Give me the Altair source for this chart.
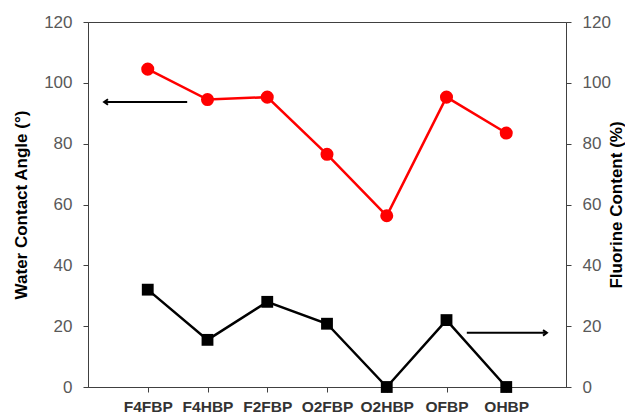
import altair as alt
import pandas as pd

categories = ["F4FBP", "F4HBP", "F2FBP", "O2FBP", "O2HBP", "OFBP", "OHBP"]
positions = [1, 2, 3, 4, 5, 6, 7]
contact_angle = [104.5, 94.5, 95.3, 76.5, 56.3, 95.3, 83.5]
fluorine = [32.0, 15.5, 28.0, 20.8, 0.0, 22.0, 0.0]

# annotation arrows (data coords): x_from, x_to, y
left_arrow = {"x": [1.66], "x2": [0.27], "y": [93.7]}
right_arrow = {"x": [6.34], "x2": [7.68], "y": [17.8]}

df = pd.DataFrame({"pos": positions, "cat": categories,
                   "wca": contact_angle, "f": fluorine})
la = pd.DataFrame(left_arrow)
ra = pd.DataFrame(right_arrow)

label_expr = "{" + ",".join(f"'{p}':'{c}'" for p, c in zip(positions, categories)) + "}[datum.value]"

FONT = "Liberation Sans"
xscale = alt.Scale(domain=[0, 8], nice=False, zero=False)
xaxis = alt.Axis(values=positions, labelExpr=label_expr, title=None, grid=False,
                 labelFont=FONT, labelFontSize=15.5, labelFontWeight="bold",
                 labelColor="#333333", tickSize=5, labelPadding=7,
                 domainColor="#404040", tickColor="#404040", labelFlush=False)
yscale = alt.Scale(domain=[0, 120], nice=False)

left_axis = alt.Axis(values=[0, 20, 40, 60, 80, 100, 120], grid=False,
                     title="Water Contact Angle (°)", titleFont=FONT, titleFontSize=17,
                     titleFontWeight="bold", titleColor="black", titlePadding=13,
                     labelFont=FONT, labelFontSize=17, labelColor="#595959",
                     tickSize=5, labelPadding=11, domainColor="#404040", tickColor="#404040")
right_axis = alt.Axis(values=[0, 20, 40, 60, 80, 100, 120], grid=False, orient="right",
                      title="Fluorine Content (%)", titleFont=FONT, titleFontSize=17,
                      titleFontWeight="bold", titleColor="black", titlePadding=15,
                      titleAngle=270,
                      labelFont=FONT, labelFontSize=17, labelColor="#595959",
                      tickSize=5, labelPadding=11, domainColor="#404040", tickColor="#404040")

base = alt.Chart(df)
x = alt.X("pos:Q", scale=xscale, axis=xaxis)

red_line = base.mark_line(color="#ff0000", strokeWidth=2.5).encode(
    x=x, y=alt.Y("wca:Q", scale=yscale, axis=left_axis))
red_pts = base.mark_point(color="#ff0000", filled=True, opacity=1, size=170, shape="circle").encode(
    x=alt.X("pos:Q", scale=xscale), y=alt.Y("wca:Q", scale=yscale))
larrow = alt.Chart(la).mark_rule(color="black", strokeWidth=2).encode(
    x=alt.X("x:Q", scale=xscale), x2="x2:Q", y=alt.Y("y:Q", scale=yscale))
lhead = alt.Chart(la).mark_point(color="black", filled=False, strokeWidth=2, opacity=1, size=60,
                                 shape="M 1 -0.7 L 0 0 L 1 0.7").encode(
    x=alt.X("x2:Q", scale=xscale), y=alt.Y("y:Q", scale=yscale))
left_layer = alt.layer(red_line, red_pts, larrow, lhead)

blk_line = base.mark_line(color="black", strokeWidth=2.5).encode(
    x=x, y=alt.Y("f:Q", scale=yscale, axis=right_axis))
blk_pts = base.mark_point(color="black", filled=True, opacity=1, size=140, shape="square").encode(
    x=alt.X("pos:Q", scale=xscale), y=alt.Y("f:Q", scale=yscale))
rarrow = alt.Chart(ra).mark_rule(color="black", strokeWidth=2).encode(
    x=alt.X("x:Q", scale=xscale), x2="x2:Q", y=alt.Y("y:Q", scale=yscale))
rhead = alt.Chart(ra).mark_point(color="black", filled=False, strokeWidth=2, opacity=1, size=60,
                                 shape="M -1 -0.7 L 0 0 L -1 0.7").encode(
    x=alt.X("x2:Q", scale=xscale), y=alt.Y("y:Q", scale=yscale))
right_layer = alt.layer(blk_line, blk_pts, rarrow, rhead)

chart = alt.layer(left_layer, right_layer).resolve_scale(y="independent").properties(
    width=478, height=365,
    autosize=alt.AutoSizeParams(type="none"),
    padding={"left": 80, "top": 14, "right": 59, "bottom": 26},
    background="white",
).configure_view(stroke="#404040", strokeWidth=1)

chart.save("out.html", embed_options={"renderer": "svg", "actions": False})
